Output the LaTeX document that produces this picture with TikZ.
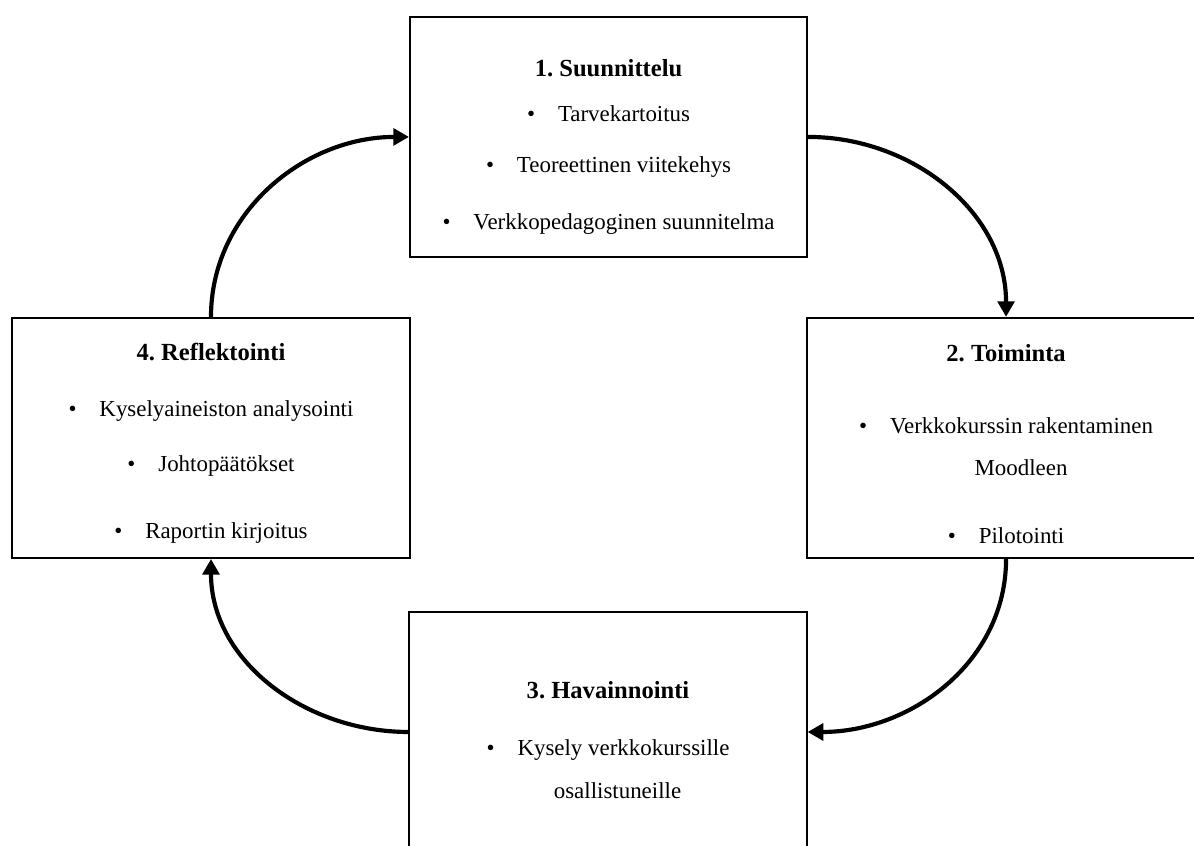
\documentclass[tikz,border=0pt]{standalone}
\usepackage{fontspec}
\setmainfont{Liberation Serif}
\usetikzlibrary{arrows.meta,positioning}
\frenchspacing
\newcommand{\itm}[1]{\textbullet\hspace{11pt}#1}
\newcommand{\phasetitle}[1]{{\fontsize{11.8}{14.5}\selectfont\bfseries #1}}

\begin{document}
\begin{tikzpicture}[
  x=1cm,y=1cm,
  phase/.style={draw=black, line width=0.95pt, fill=white,
    minimum width=6.7cm, minimum height=4.05cm, inner sep=0pt},
  phasetext/.style={align=center, inner sep=0pt,
    font=\fontsize{11}{14.5}\selectfont},
  cyclepath/.style={-{Triangle[length=7.5pt,width=8pt]}, line width=2pt}
]
\useasboundingbox (0,0) rectangle (20.14,14.27);

\node[phase] (plan) at (10.265,11.96) {};
\node[phasetext, below=20.6pt of plan.north] (plantext)
  {\phasetitle{1. Suunnittelu}\\[7.1pt]
   \itm{Tarvekartoitus}\\[10pt]
   \itm{Teoreettinen viitekehys}\\[12.9pt]
   \itm{Verkkopedagoginen suunnitelma}};

\node[phase] (act) at (16.97,6.883) {};
\node[phasetext, below=12.9pt of act.north] (acttext)
  {\phasetitle{2. Toiminta}\\[20.1pt]
   \itm{Verkkokurssin rakentaminen}\\[5.7pt]
   \hspace*{14.4pt}Moodleen\\[18.1pt]
   \itm{Pilotointi}};

\node[phase] (obs) at (10.256,1.923) {};
\node[phasetext, below=33.5pt of obs.north] (obstext)
  {\phasetitle{3. Havainnointi}\\[12.9pt]
   \itm{Kysely verkkokurssille}\\[6.1pt]
   \hspace*{9.1pt}osallistuneille};

\node[phase] (refl) at (3.559,6.883) {};
\node[phasetext, below=12.3pt of refl.north] (refltext)
  {\phasetitle{4. Reflektointi}\\[12.4pt]
   \itm{Kyselyaineiston analysointi}\\[11.9pt]
   \itm{Johtopäätökset}\\[17.7pt]
   \itm{Raportin kirjoitus}};

% cycle arrows
\draw[cyclepath] (plan.east) to[out=0, in=90] (act.north);
\draw[cyclepath] (act.south) to[out=-90, in=0] (obs.east);
\draw[cyclepath] (obs.west) to[out=180, in=-90] (refl.south);
\draw[cyclepath] (refl.north) to[out=90, in=180] (plan.west);
\end{tikzpicture}
\end{document}
